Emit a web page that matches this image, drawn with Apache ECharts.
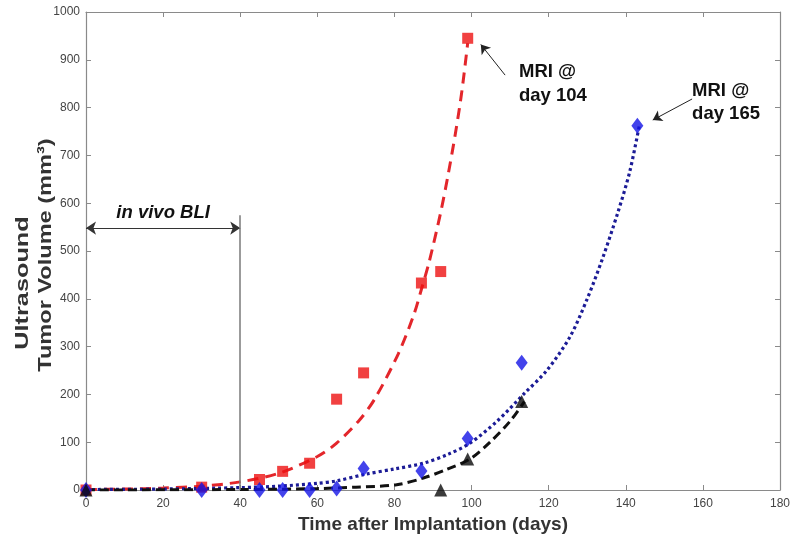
<!DOCTYPE html>
<html lang="en">
<head>
<meta charset="UTF-8">
<title>Ultrasound tumor volume</title>
<script src="https://cdn.jsdelivr.net/npm/echarts@6/dist/echarts.min.js"></script>
</head>
<body style="margin:0;background:#fff">
<div id="main" style="width:795px;height:535px"></div>
<script>
// measured volumes [day, mm3]
var redPts = [[0, 0], [30, 6], [45, 22], [51, 39], [58, 56], [65, 190], [72, 245], [87, 433], [92, 457], [99, 945]];
var bluePts = [[0, 0], [30, 0], [45, 0], [51, 0], [58, 0], [65, 3], [72, 45], [87, 40], [99, 108], [113, 266], [143, 762]];
var blackPts = [[0, 0], [92, 0], [99, 65], [113, 185]];

// fitted curves
var redFit = [[0, 1], [10, 2], [20, 4], [30, 8], [40, 17], [50, 35], [60, 70], [65, 98], [71, 147], [75, 192],
    [81, 285], [85, 366], [87, 420], [89, 477], [92, 581], [94, 663], [96, 755], [97.5, 835], [99, 935]];
var blueFit = [[0, 1], [20, 2], [40, 5], [50, 8], [60, 14], [65, 19], [72.5, 33], [80, 44], [87.5, 56], [94, 75],
    [99.6, 98], [106.5, 143], [113.7, 202], [119.5, 250], [125.5, 320], [130, 400], [134, 485], [138, 582],
    [141, 665], [143.5, 762]];
var blackFit = [[0, 0], [40, 1], [60, 3], [70, 6], [80.6, 11], [87.5, 25], [93.5, 43], [99.6, 65], [104.8, 100],
    [110, 144], [113.7, 185]];

// annotations in data units
var bliSpan = [0, 40];
var bliLevel = 548;
var bliTop = 575;

var font = 'Arial, "Liberation Sans", sans-serif';
var axisGray = '#8a8a8a';

var myChart = echarts.init(document.getElementById('main'));

function boxAxis(extra) {
    return Object.assign({
        type: 'value',
        axisLine: {show: true, onZero: false, lineStyle: {color: axisGray, width: 1.2}},
        axisTick: {show: true, inside: true, length: 5, lineStyle: {color: axisGray}},
        splitLine: {show: false},
        axisLabel: {show: false}
    }, extra);
}

var tickLabel = {
    show: true, color: '#444', fontSize: 12, fontFamily: font,
    formatter: function (v) { return String(v); }
};

var option = {
    animation: false,
    backgroundColor: '#fff',
    grid: {left: 86, right: 15, top: 12, bottom: 45, containLabel: false, outerBoundsMode: 'none'},
    xAxis: [
        boxAxis({
            min: 0, max: 180, interval: 20, position: 'bottom',
            axisLabel: Object.assign({margin: 8}, tickLabel),
            name: 'Time after Implantation (days)',
            nameLocation: 'middle', nameGap: 16,
            nameTextStyle: {fontSize: 19, fontWeight: 'bold', color: '#333', fontFamily: font}
        }),
        boxAxis({min: 0, max: 180, interval: 20, position: 'top'})
    ],
    yAxis: [
        boxAxis({
            min: 0, max: 1000, interval: 100, position: 'left',
            axisLabel: Object.assign({margin: 6}, tickLabel)
        }),
        boxAxis({min: 0, max: 1000, interval: 100, position: 'right'})
    ],
    series: [
        {
            type: 'line', data: redFit, smooth: 0.3, symbol: 'none', z: 2,
            lineStyle: {color: '#e3262b', width: 3, type: [11, 7]}
        },
        {
            type: 'line', data: blueFit, smooth: 0.3, symbol: 'none', z: 2,
            lineStyle: {color: '#1c1c96', width: 3.2, type: [3, 3]}
        },
        {
            type: 'line', data: blackFit, smooth: 0.3, symbol: 'none', z: 2,
            lineStyle: {color: '#111', width: 3, type: [9, 5]}
        },
        {
            type: 'scatter', data: redPts, symbol: 'rect', symbolSize: 11, clip: false, z: 4,
            itemStyle: {color: '#ee1111'},
            markLine: {
                silent: true, symbol: ['none', 'arrow'], symbolSize: 9,
                label: {show: false},
                lineStyle: {color: '#222', width: 1, type: 'solid'},
                data: [
                    [{coord: [108.7, 868]}, {coord: [102.4, 932]}],
                    [{coord: [157.2, 818]}, {coord: [147, 774]}]
                ]
            }
        },
        {
            type: 'scatter', data: bluePts, symbol: 'diamond', symbolSize: [12, 16], clip: false, z: 4,
            itemStyle: {color: '#1414e6'},
            markLine: {
                silent: true, symbol: ['arrow', 'arrow'], symbolSize: 10,
                label: {show: false},
                lineStyle: {color: '#333', width: 1.2, type: 'solid'},
                data: [
                    [{coord: [bliSpan[0], bliLevel]}, {coord: [bliSpan[1], bliLevel]}]
                ]
            }
        },
        {
            type: 'scatter', data: blackPts, symbol: 'triangle', symbolSize: 13, clip: false, z: 5,
            itemStyle: {color: '#0a0a0a'},
            markLine: {
                silent: true, symbol: 'none',
                label: {show: false},
                lineStyle: {color: '#7a7a7a', width: 1.5, type: 'solid'},
                data: [
                    [{coord: [bliSpan[1], 0]}, {coord: [bliSpan[1], bliTop]}]
                ]
            }
        }
    ]
};

myChart.setOption(option);

function px(x, y) {
    return myChart.convertToPixel({gridIndex: 0}, [x, y]);
}

var p104 = px(112.3, 900);
var p165 = px(157.2, 860);
var pBli = px(20, 579);

var titleStyle = {font: 'bold 19px ' + font, fill: '#333', align: 'center', verticalAlign: 'middle'};

myChart.setOption({
    graphic: [
        {
            type: 'text', x: p104[0], y: p104[1], z: 10,
            style: {text: 'MRI @\nday 104', font: 'bold 18.5px ' + font, fill: '#111', lineHeight: 24, verticalAlign: 'top'}
        },
        {
            type: 'text', x: p165[0], y: p165[1], z: 10,
            style: {text: 'MRI @\nday 165', font: 'bold 18.5px ' + font, fill: '#111', lineHeight: 23, verticalAlign: 'top'}
        },
        {
            type: 'text', x: pBli[0], y: pBli[1], z: 10,
            style: {text: 'in vivo BLI', font: 'italic bold 18.5px ' + font, fill: '#111', align: 'center', verticalAlign: 'middle'}
        },
        // y-axis title, two lines
        {
            type: 'text', x: 23, y: 283, rotation: Math.PI / 2, scaleX: 1.33, z: 10,
            style: Object.assign({text: 'Ultrasound'}, titleStyle)
        },
        {
            type: 'text', x: 46, y: 255, rotation: Math.PI / 2, scaleX: 1.24, z: 10,
            style: Object.assign({text: 'Tumor Volume (mm\u00b3)'}, titleStyle)
        }
    ]
});
</script>
</body>
</html>
